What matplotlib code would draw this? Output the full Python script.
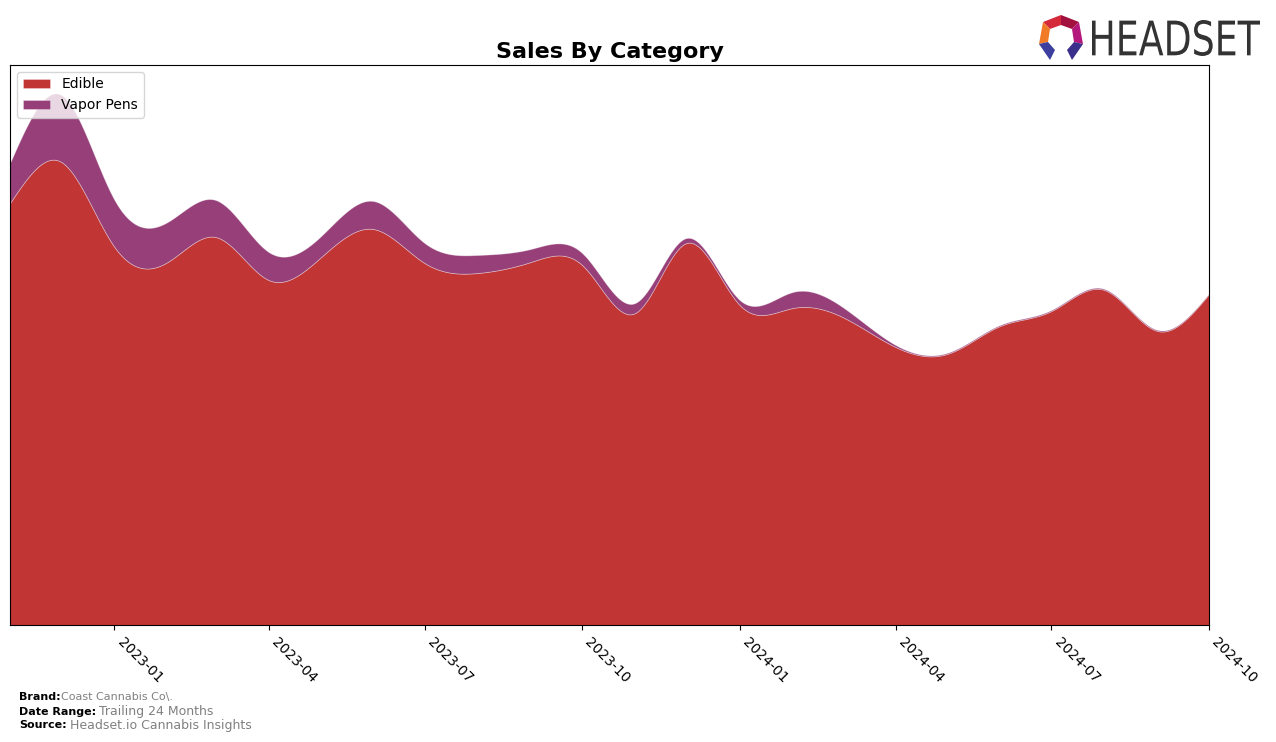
import matplotlib
matplotlib.use("Agg")
import matplotlib.pyplot as plt
import matplotlib.dates as mdates
from matplotlib.patches import Polygon, PathPatch
from matplotlib.textpath import TextPath
from matplotlib.font_manager import FontProperties
from matplotlib.transforms import Affine2D
import numpy as np
import pandas as pd

# data (monthly, arbitrary units)
months = pd.date_range("2022-11-01", "2024-10-01", freq="MS")
edible = [422, 463, 378, 363, 388, 345, 367, 396, 362, 352, 363, 360,
          312, 382, 320, 317, 308, 278, 271, 299, 314, 335, 294, 331]
vapor_pens = [40, 67, 47, 40, 37, 28, 21, 28, 20, 18, 13, 12,
              10, 5, 5, 16, 10, 2, 1, 1, 1, 1, 1, 0.5]
labels = ["Edible", "Vapor Pens"]
colors = ["#c13535", "#963f78"]
tick_dates = pd.date_range("2023-01-01", "2024-10-01", freq="QS")


def natural_spline(x, y, xs):
    # natural cubic spline, numpy only
    x = np.asarray(x, float)
    y = np.asarray(y, float)
    n = len(x)
    h = np.diff(x)
    A = np.zeros((n, n))
    b = np.zeros(n)
    A[0, 0] = A[-1, -1] = 1
    for i in range(1, n - 1):
        A[i, i - 1] = h[i - 1]
        A[i, i] = 2 * (h[i - 1] + h[i])
        A[i, i + 1] = h[i]
        b[i] = 3 * ((y[i + 1] - y[i]) / h[i] - (y[i] - y[i - 1]) / h[i - 1])
    c = np.linalg.solve(A, b)
    idx = np.clip(np.searchsorted(x, xs) - 1, 0, n - 2)
    dx = xs - x[idx]
    bb = (y[idx + 1] - y[idx]) / h[idx] - h[idx] * (2 * c[idx] + c[idx + 1]) / 3
    dd = (c[idx + 1] - c[idx]) / (3 * h[idx])
    return y[idx] + bb * dx + c[idx] * dx ** 2 + dd * dx ** 3


xn = mdates.date2num(months)
xs = np.linspace(xn[0], xn[-1], 800)
ed_s = np.clip(natural_spline(xn, edible, xs), 0, None)
vp_s = np.clip(natural_spline(xn, vapor_pens, xs), 0, None)

fig = plt.figure(figsize=(12.76, 7.42), dpi=100)
ax = fig.add_axes([10 / 1276, 1 - 625 / 742, 1199 / 1276, 560 / 742])

ax.stackplot(xs, ed_s, vp_s, labels=labels, colors=colors,
             edgecolor=(1, 1, 1, 0.35), linewidth=0.6)

ax.set_xlim(xn[0], xn[-1])
ax.set_ylim(0, 560)
ax.set_yticks([])
ax.set_xticks(mdates.date2num(tick_dates))
ax.set_xticklabels([d.strftime("%Y-%m") for d in tick_dates],
                   rotation=-45, ha="left", fontsize=10)

ax.set_title("Sales By Category", fontsize=16, fontweight="bold", pad=5)
ax.legend(loc="upper left", fontsize=10)

# footer
fig.text(19 / 1276, 1 - 697 / 742, "Brand:", fontsize=8, fontweight="bold", va="center")
fig.text(61 / 1276, 1 - 697 / 742, "Coast Cannabis Co\\.", fontsize=8, color="gray", va="center")
fig.text(19 / 1276, 1 - 712 / 742, "Date Range:", fontsize=8, fontweight="bold", va="center")
fig.text(99 / 1276, 1 - 712 / 742, "Trailing 24 Months", fontsize=9, color="gray", va="center")
fig.text(19 / 1276, 1 - 725 / 742, "Source:", fontsize=8, fontweight="bold", va="center")
fig.text(70 / 1276, 1 - 725 / 742, "Headset.io Cannabis Insights", fontsize=9, color="gray", va="center")


# logo, drawn in pixel coords from the top-left
def px(pts):
    return [(x / 1276, 1 - y / 742) for x, y in pts]

logo_parts = [
    ([(1043, 22), (1061, 15), (1061, 25), (1050, 29)], "#d42a3a"),
    ([(1061, 15), (1079, 22), (1072, 29), (1061, 25)], "#a3123f"),
    ([(1043, 22), (1050, 29), (1048, 42), (1039, 44)], "#f07a25"),
    ([(1079, 22), (1083, 44), (1074, 42), (1072, 29)], "#b4187c"),
    ([(1039, 44), (1048, 42), (1055, 50), (1050, 60)], "#3d3f9e"),
    ([(1083, 44), (1074, 42), (1067, 50), (1072, 60)], "#3a2f8a"),
]
for pts, c in logo_parts:
    fig.add_artist(Polygon(px(pts), closed=True, facecolor=c, edgecolor="none",
                           transform=fig.transFigure))

tp = TextPath((0, 0), "HEADSET", size=1, prop=FontProperties(family="DejaVu Sans"))
ext = tp.get_extents()
logo_tr = (Affine2D().translate(-ext.x0, -ext.y0)
           .scale(168 / ext.width, 36 / ext.height)
           .translate(1092, 742 - 56)
           .scale(1 / 1276, 1 / 742) + fig.transFigure)
fig.add_artist(PathPatch(tp, facecolor="#333333", edgecolor="none", transform=logo_tr))

fig.savefig("out.png", dpi=100)
